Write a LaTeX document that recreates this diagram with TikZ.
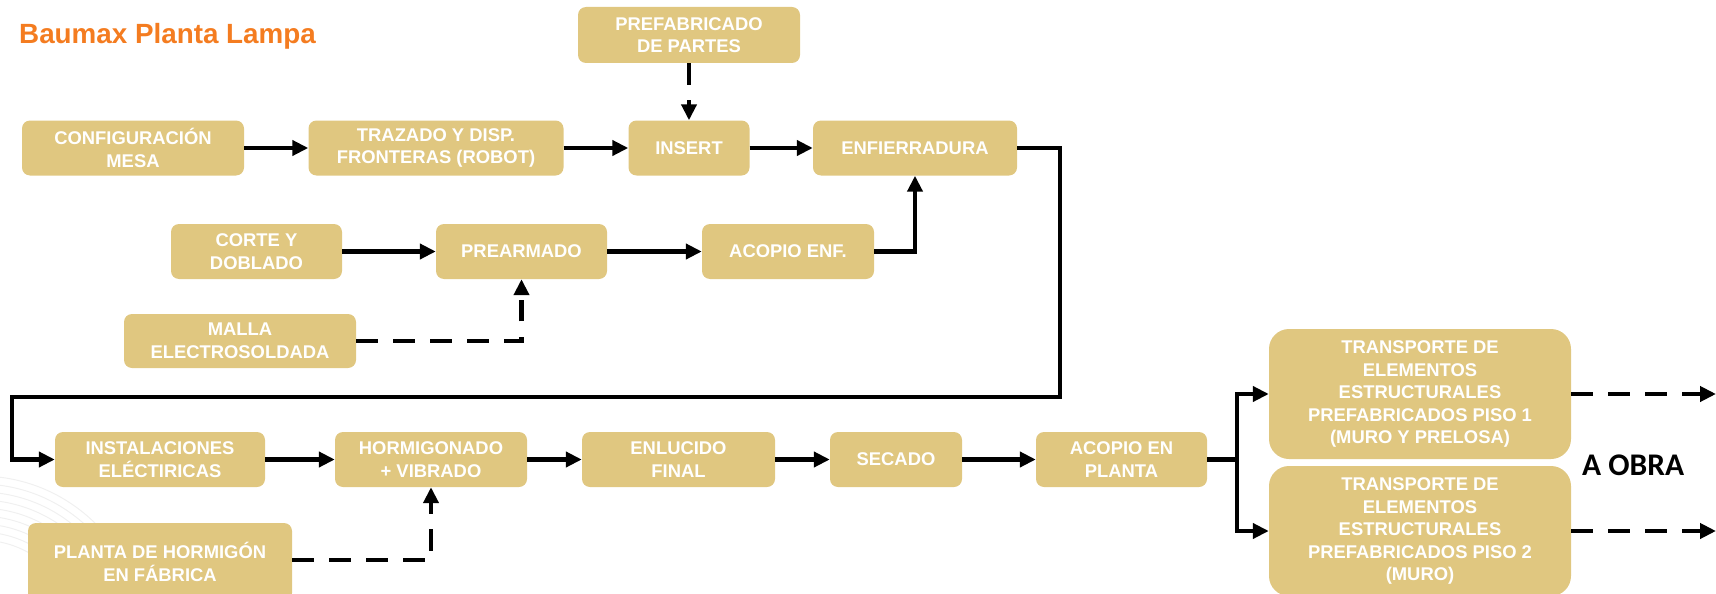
\documentclass[tikz,border=0pt]{standalone}
\usepackage{fontspec}
\setmainfont{Liberation Sans}
\newfontfamily\obrafont{Carlito}
\usetikzlibrary{arrows.meta}
\definecolor{boxtan}{RGB}{224,199,128}
\definecolor{titleorange}{RGB}{244,124,32}

\begin{document}
\begin{tikzpicture}[x=1pt,y=-1pt,
  stage/.style={fill=boxtan, rounded corners=8pt, text=white,
    font=\fontsize{18.4}{22.5}\selectfont\bfseries, align=center,
    inner sep=0pt, minimum height=55pt},
  bigstage/.style={stage, rounded corners=20pt, minimum width=302pt, minimum height=130pt},
  flow/.style={line width=4.7pt, -{Triangle[length=16pt,width=15pt]}},
  plainline/.style={line width=4.7pt},
  feed/.style={flow, dash pattern=on 21.5pt off 15.5pt},
  deco/.style={gray!12, line width=1pt},
]
\useasboundingbox (0,0) rectangle (1716,594);
\clip (0,0) rectangle (1716,594);

% faint background arcs, lower left
\foreach \r in {100,108,...,164}
  \draw[deco] (-20,640) circle[radius=\r];

% title
\node[anchor=base west, text=titleorange, font=\fontsize{27.8}{30}\selectfont\bfseries, inner sep=0pt]
  (title) at (19,44) {Baumax Planta Lampa};

% top row
\node[stage, minimum width=222pt, minimum height=56pt] (pref) at (689,35) {PREFABRICADO\\DE PARTES};
\node[stage, minimum width=222pt] (conf) at (133,148) {CONFIGURACIÓN\\MESA};
\node[stage, minimum width=255pt] (traz) at (436,148) {TRAZADO Y DISP.\\FRONTERAS (ROBOT)};
\node[stage, minimum width=121pt] (insert) at (689,148) {INSERT};
\node[stage, minimum width=204pt] (enf) at (915,148) {ENFIERRADURA};

% reinforcement row
\node[stage, minimum width=171pt] (corte) at (256.5,251.5) {CORTE Y\\DOBLADO};
\node[stage, minimum width=171pt] (prearm) at (521.5,251.5) {PREARMADO};
\node[stage, minimum width=172pt] (acopioenf) at (788,251.5) {ACOPIO ENF.};
\node[stage, minimum width=232pt, minimum height=54pt] (malla) at (240,341) {MALLA\\ELECTROSOLDADA};

% lower row
\node[stage, minimum width=210pt] (inst) at (160,459.5) {INSTALACIONES\\ELÉCTIRICAS};
\node[stage, minimum width=192pt] (horm) at (431,459.5) {HORMIGONADO\\+ VIBRADO};
\node[stage, minimum width=193pt] (enluc) at (678.5,459.5) {ENLUCIDO\\FINAL};
\node[stage, minimum width=132pt] (secado) at (896,459.5) {SECADO};
\node[stage, minimum width=171pt] (acopio) at (1121.5,459.5) {ACOPIO EN\\PLANTA};
\node[stage, minimum width=264pt, minimum height=78pt] (planta) at (160,562) {PLANTA DE HORMIGÓN\\EN FÁBRICA};

% transport
\node[bigstage] (t1) at (1420,394) {TRANSPORTE DE\\ELEMENTOS\\ESTRUCTURALES\\PREFABRICADOS PISO 1\\(MURO Y PRELOSA)};
\node[bigstage] (t2) at (1420,531) {TRANSPORTE DE\\ELEMENTOS\\ESTRUCTURALES\\PREFABRICADOS PISO 2\\(MURO)};
\node[anchor=base west, font=\obrafont\fontsize{31.5}{33}\selectfont\bfseries, inner sep=0pt]
  (obra) at (1582,475) {A OBRA};

% connector helpers
\coordinate (loopR) at (1060,397);
\coordinate (loopL) at (12,397);
\coordinate (split) at (1237,459.5);
\coordinate (out1) at (1716,394);
\coordinate (out2) at (1716,531);

% main flow
\draw[flow] (conf) -- (traz);
\draw[flow] (traz) -- (insert);
\draw[flow] (insert) -- (enf);
\draw[flow] (corte) -- (prearm);
\draw[flow] (prearm) -- (acopioenf);
\draw[flow] (acopioenf.east) -| (enf.south);
\draw[flow] (enf.east) -| (loopR) -- (loopL) |- (inst.west);
\draw[flow] (inst) -- (horm);
\draw[flow] (horm) -- (enluc);
\draw[flow] (enluc) -- (secado);
\draw[flow] (secado) -- (acopio);
\draw[plainline] (acopio.east) -- (split);
\draw[flow] (split) |- (t1.west);
\draw[flow] (split) |- (t2.west);

% supply lines
\draw[feed] (pref.south) -- (insert.north);
\draw[feed] (malla.east) -| (prearm.south);
\draw[feed] (planta.east |- 0,560) -| (horm.south);
\draw[feed] (t1.east) -- (out1);
\draw[feed] (t2.east) -- (out2);
\end{tikzpicture}
\end{document}
